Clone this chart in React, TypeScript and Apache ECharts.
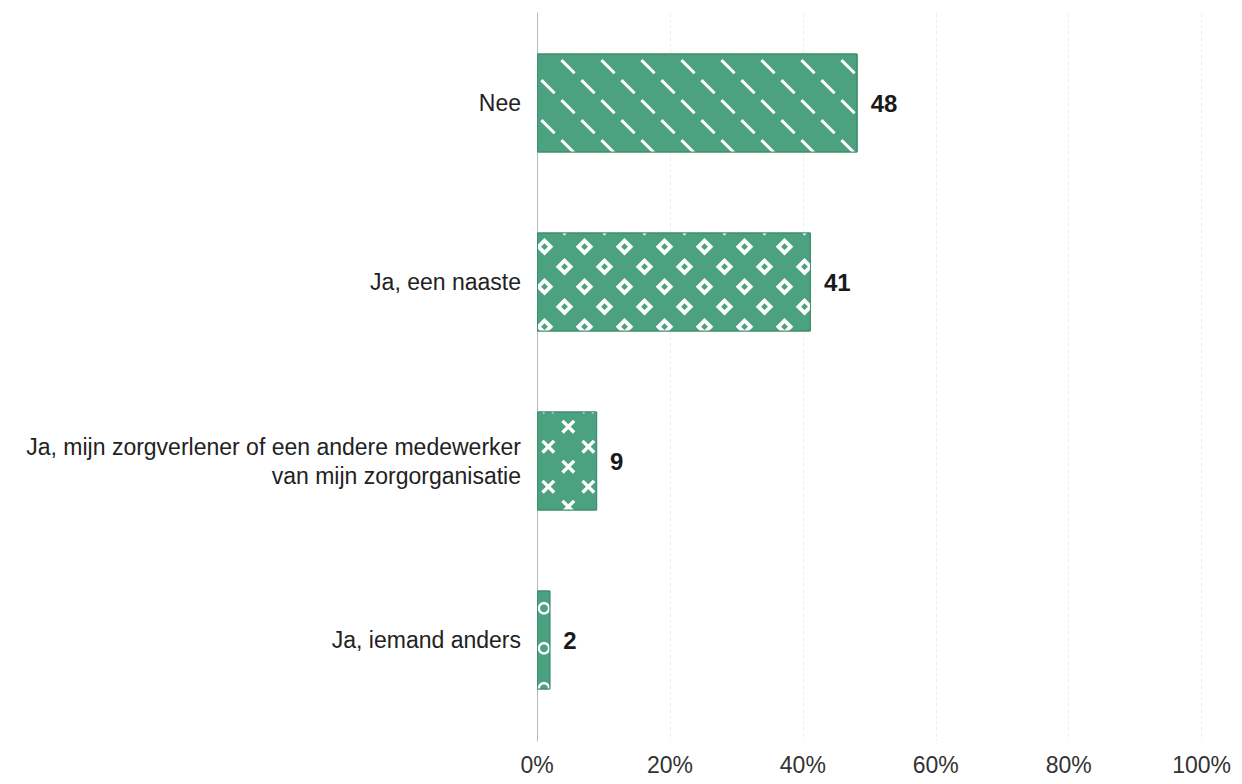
import React, { useEffect, useRef } from "react";
import * as echarts from "echarts";

const categories = [
  "Nee",
  "Ja, een naaste",
  "Ja, mijn zorgverlener of een andere medewerker\nvan mijn zorgorganisatie",
  "Ja, iemand anders",
];
const values = [48, 41, 9, 2];
const xTicks = [0, 20, 40, 60, 80, 100];

const BAR = "#4ca181";
const BORDER = "#3f8d6f";
const T = 40; // pattern tile size (px)

type Pt = [number, number];

function area(p: Pt[]) {
  let a = 0;
  for (let i = 0; i < p.length; i++) {
    const q = p[(i + 1) % p.length];
    a += p[i][0] * q[1] - q[0] * p[i][1];
  }
  return a / 2;
}
function orient(p: Pt[], positive: boolean) {
  const a = area(p);
  return (a >= 0) === positive ? p : p.slice().reverse();
}
function clipAxis(poly: Pt[], axis: 0 | 1, val: number, keepGreater: boolean): Pt[] {
  const out: Pt[] = [];
  const inside = (pt: Pt) => (keepGreater ? pt[axis] >= val : pt[axis] <= val);
  const cross = (a: Pt, b: Pt): Pt => {
    const t = (val - a[axis]) / (b[axis] - a[axis]);
    return [a[0] + t * (b[0] - a[0]), a[1] + t * (b[1] - a[1])];
  };
  for (let i = 0; i < poly.length; i++) {
    const cur = poly[i];
    const prev = poly[(i + poly.length - 1) % poly.length];
    if (inside(cur)) {
      if (!inside(prev)) out.push(cross(prev, cur));
      out.push(cur);
    } else if (inside(prev)) out.push(cross(prev, cur));
  }
  return out;
}
function clipTile(p: Pt[]): Pt[] {
  let q = clipAxis(p, 0, 0, true);
  if (q.length) q = clipAxis(q, 0, T, false);
  if (q.length) q = clipAxis(q, 1, 0, true);
  if (q.length) q = clipAxis(q, 1, T, false);
  return q;
}
function seg(cx: number, cy: number, h: number, t: number, slash: boolean): Pt[] {
  const s = slash ? -1 : 1;
  const nx = (t / 2) / Math.SQRT2;
  const ny = (-s * t / 2) / Math.SQRT2;
  const p0: Pt = [cx - h, cy - s * h];
  const p1: Pt = [cx + h, cy + s * h];
  return orient(
    [
      [p0[0] + nx, p0[1] + ny],
      [p1[0] + nx, p1[1] + ny],
      [p1[0] - nx, p1[1] - ny],
      [p0[0] - nx, p0[1] - ny],
    ],
    true
  );
}
function diamond(cx: number, cy: number, r: number, hole: boolean): Pt[] {
  return orient(
    [
      [cx, cy - r],
      [cx + r, cy],
      [cx, cy + r],
      [cx - r, cy],
    ],
    !hole
  );
}
function circle(cx: number, cy: number, r: number, hole: boolean): Pt[] {
  const pts: Pt[] = [];
  for (let i = 0; i < 32; i++) {
    const a = (i / 32) * Math.PI * 2;
    pts.push([cx + r * Math.cos(a), cy + r * Math.sin(a)]);
  }
  return orient(pts, !hole);
}
function tilePath(shapes: Pt[][]): string {
  const r = (v: number) => Math.round(v * 100) / 100;
  const parts: string[] = [];
  for (const sh of shapes) {
    for (const dx of [-T, 0, T]) {
      for (const dy of [-T, 0, T]) {
        const c = clipTile(sh.map(([x, y]) => [x + dx, y + dy] as Pt));
        if (c.length >= 3 && Math.abs(area(c)) > 0.01) {
          parts.push("M" + c.map(([x, y]) => r(x) + "," + r(y)).join("L") + "Z");
        }
      }
    }
  }
  parts.push("M0,0L0.05,0L0,0.05Z");
  parts.push("M" + T + "," + T + "L" + (T - 0.05) + "," + T + "L" + T + "," + (T - 0.05) + "Z");
  return "path://" + parts.join("");
}

const dashTile = tilePath([
  seg(0, 18.7, 6.6, 3, false),
  seg(20, 38.7, 6.6, 3, false),
]);
const diamondTile = tilePath([
  diamond(16.5, 38.7, 8.8, false),
  diamond(16.5, 38.7, 3.4, true),
  diamond(36.5, 18.7, 8.8, false),
  diamond(36.5, 18.7, 3.4, true),
]);
const crossTile = tilePath([
  seg(0.3, 18.7, 5.8, 3.4, false),
  seg(0.3, 18.7, 5.8, 3.4, true),
  seg(20.3, 38.7, 5.8, 3.4, false),
  seg(20.3, 38.7, 5.8, 3.4, true),
]);
const ringTile = tilePath([
  circle(16, 0.3, 6.3, false),
  circle(16, 0.3, 3.9, true),
  circle(36, 20.3, 6.3, false),
  circle(36, 20.3, 3.9, true),
]);

function decal(symbol: string) {
  return {
    symbol,
    symbolSize: 1,
    symbolKeepAspect: true,
    color: "#ffffff",
    backgroundColor: null,
    dashArrayX: [[T, 0]],
    dashArrayY: [T, 0],
    rotation: 0,
  };
}

const decals = [decal(dashTile), decal(diamondTile), decal(crossTile), decal(ringTile)];

export default function App() {
  const ref = useRef<HTMLDivElement>(null);
  useEffect(() => {
    if (!ref.current) return;
    const chart = echarts.init(ref.current, null, { renderer: "svg" });
    const font = "'Liberation Sans', Arial, sans-serif";
    chart.setOption({
      animation: false,
      backgroundColor: "#ffffff",
      grid: [
        { left: 529, right: 29, top: 5, bottom: 28 },
        { left: 529, right: 29, top: 5.5, bottom: 46.5 },
      ],
      xAxis: [
        {
          gridIndex: 0,
          type: "value",
          min: 0,
          max: 100,
          interval: 20,
          axisLine: { show: false },
          axisTick: { show: false },
          splitLine: {
            show: true,
            lineStyle: { color: "#efefef", type: "dashed", width: 1 },
          },
          axisLabel: {
            formatter: "{value}%",
            fontFamily: font,
            fontSize: 23,
            color: "#333333",
            margin: 12,
          },
          data: xTicks,
        },
        {
          gridIndex: 1,
          type: "value",
          min: 0,
          max: 100,
          show: false,
        },
      ],
      yAxis: [
        {
          gridIndex: 0,
          type: "category",
          data: categories,
          inverse: true,
          axisLine: { show: true, lineStyle: { color: "#b8b8b8", width: 1 } },
          axisTick: { show: false },
          axisLabel: { show: false },
          splitLine: { show: false },
        },
        {
          gridIndex: 1,
          type: "category",
          data: categories,
          inverse: true,
          axisLine: { show: false },
          axisTick: { show: false },
          axisLabel: {
            fontFamily: font,
            fontSize: 23,
            color: "#222222",
            margin: 16,
            align: "right",
            lineHeight: 29,
          },
        },
      ],
      series: [
        {
          type: "bar",
          xAxisIndex: 1,
          yAxisIndex: 1,
          barWidth: 99,
          data: values.map((v, i) => ({
            value: v,
            itemStyle: {
              color: BAR,
              borderColor: BORDER,
              borderWidth: 1,
              decal: decals[i],
            },
          })),
          label: {
            show: true,
            position: "right",
            distance: 13,
            fontFamily: font,
            fontSize: 24,
            fontWeight: "bold",
            color: "#1a1a1a",
          },
        },
      ],
    });
    return () => chart.dispose();
  }, []);
  return <div ref={ref} style={{ width: 1226, height: 768 }} />;
}
